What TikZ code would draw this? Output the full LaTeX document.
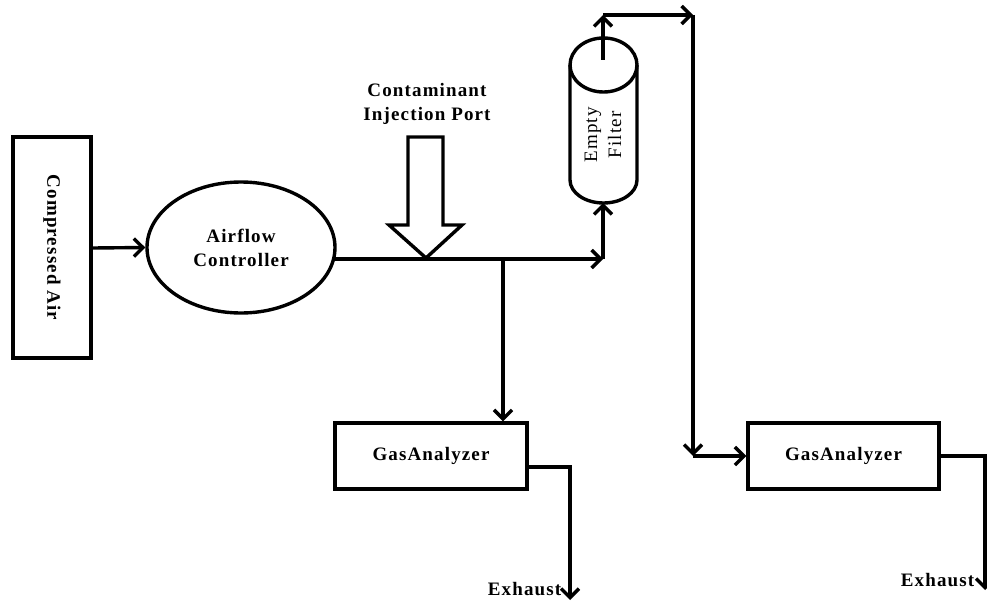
\documentclass[tikz,border=0pt]{standalone}
\usepackage{fontspec}
\setmainfont{Liberation Serif}[LetterSpace=6]
\usetikzlibrary{arrows.meta,shapes.geometric,calc}
\begin{document}
\begin{tikzpicture}[x=1pt,y=-1pt,
  line width=3.4pt,
  arr/.style={-{Straight Barb[length=9pt,width=18pt]}},
  lbl/.style={font=\fontsize{19}{24}\selectfont\bfseries,align=center,inner sep=0pt},
  boxr/.style={draw,rectangle,inner sep=0pt},
]
\useasboundingbox (0,0) rectangle (987,602);
% nodes
\node[boxr,minimum width=78pt,minimum height=221pt] (ca) at (52,247.5) {};
\node[lbl,rotate=-90] (catext) at (ca.center) {Compressed Air};
\node[draw,ellipse,minimum width=188pt,minimum height=131pt,inner sep=0pt,lbl] (ac) at (241,247.5) {Airflow\\Controller};
\node[boxr,lbl,minimum width=192pt,minimum height=66pt] (ga1) at (431,456) {GasAnalyzer};
\node[boxr,lbl,minimum width=191pt,minimum height=66pt] (ga2) at (843.5,456) {GasAnalyzer};
\node[lbl] (injtext) at (427,104) {Contaminant\\Injection Port};
\node[lbl,anchor=east] (ex1) at (563,589) {Exhaust};
\node[lbl,anchor=east] (ex2) at (976,580) {Exhaust};
% filter (cylinder)
\draw (603.5,65) ellipse [x radius=33.5pt, y radius=27pt];
\draw (570,65) -- (570,180) arc[start angle=180,end angle=360,x radius=33.5pt,y radius=23pt] -- (637,65);
\coordinate (fbot) at (603,203);
\coordinate (fin) at (603,60);
\node[font=\fontsize{19}{24}\selectfont,align=center,rotate=90,inner sep=0pt] (ftext) at (603,135) {Empty\\Filter};
% injection block arrow
\draw[line join=miter] (408,137) -- (443,137) -- (443,225) -- (462,225) -- (426,258) -- (389,225) -- (408,225) -- cycle;
% coordinates
\coordinate (j0) at ($(ac.east)+(-1.5,11.5)$);
\coordinate (j1) at (503,259);
\coordinate (j2) at (603,259);
\coordinate (t1) at (603,15);
\coordinate (t2) at (693,15);
\coordinate (t3) at (693,456);
\coordinate (e1a) at ($(ga1.east)+(0,11)$);
\coordinate (e1b) at (570,467);
\coordinate (e1c) at (570,600);
\coordinate (e2b) at (985,456);
\coordinate (e2c) at (985,590);
% connectors
\draw[arr] (ca.east |- 0,248) -- (ac.west);
\draw (j0) -- (j1);
\draw[arr] (j1) -- (j2);
\draw[arr] (j2) -- (fbot);
\draw[arr] (j1) -- (j1 |- ga1.north);
\draw[arr] (fin) -- (t1);
\draw[arr] (t1) -- (t2);
\draw[arr] (t2) -- (t3);
\draw[arr] (t3) -- (ga2.west);
\draw[arr] (e1a) -- (e1b) -- (e1c);
\draw[arr] (ga2.east) -- (e2b) -- (e2c);
\end{tikzpicture}
\end{document}
